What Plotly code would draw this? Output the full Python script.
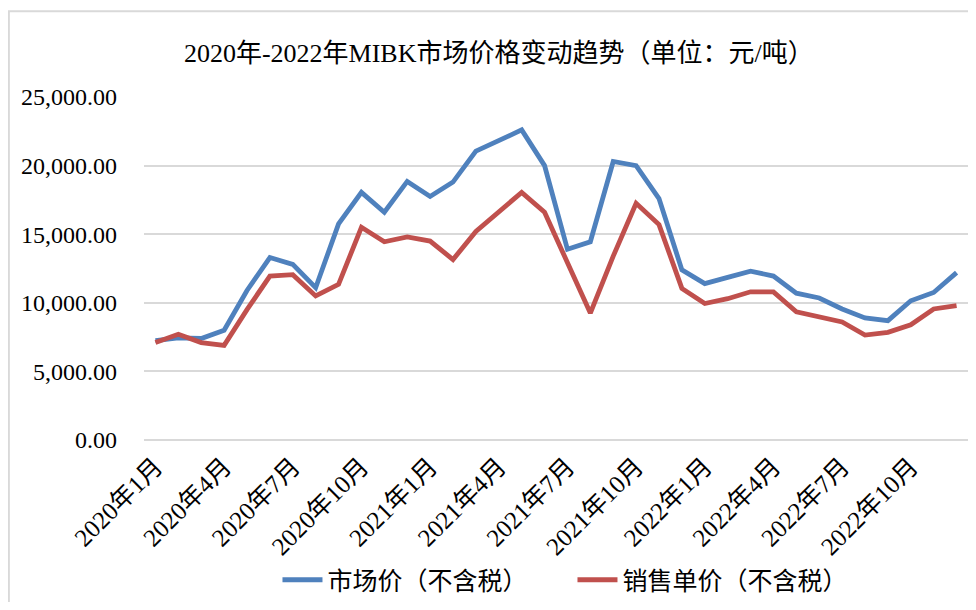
import plotly.graph_objects as go

# months 2020-01 .. 2022-12
months = [f"{y}年{m}月" for y in (2020, 2021, 2022) for m in range(1, 13)]

market_price = [
    7250, 7450, 7400, 8000, 10900, 13300, 12800, 11100, 15750, 18050, 16600, 18850,
    17750, 18800, 21050, 21800, 22600, 20000, 13900, 14450, 20300, 20000, 17600, 12400,
    11400, 11850, 12300, 11950, 10700, 10350, 9550, 8900, 8700, 10150, 10750, 12200,
]

sale_price = [
    7100, 7700, 7100, 6900, 9500, 11950, 12050, 10500, 11350, 15500, 14450, 14800,
    14500, 13150, 15200, 16650, 18050, 16600, 13000, 9250, 13400, 17250, 15700, 11050,
    9950, 10300, 10800, 10800, 9350, 9000, 8600, 7650, 7850, 8400, 9550, 9800,
]

tick_labels = months[::3]

FONT = "Liberation Serif, Times New Roman, Noto Sans CJK SC, serif"

fig = go.Figure()
fig.add_trace(go.Scatter(
    x=months, y=market_price, mode="lines", name="市场价（不含税）",
    line=dict(color="#4F81BD", width=4.8),
))
fig.add_trace(go.Scatter(
    x=months, y=sale_price, mode="lines", name="销售单价（不含税）",
    line=dict(color="#C0504D", width=4.8),
))

# page body keeps an 8px margin, so the figure is sized/offset accordingly
fig.update_layout(
    width=968,
    height=594,
    margin=dict(l=136, r=8, t=89, b=162, autoexpand=False),
    paper_bgcolor="white",
    plot_bgcolor="white",
    font=dict(family=FONT, size=24, color="black"),
    title=dict(
        text="2020年-2022年MIBK市场价格变动趋势（单位：元/吨）",
        x=0.507, xanchor="center",
        y=1 - 45 / 594, yanchor="middle", yref="container",
        font=dict(family=FONT, size=26, color="black"),
    ),
    legend=dict(
        orientation="h",
        x=0.52, xanchor="center",
        y=1 - 572 / 594, yanchor="middle", yref="container",
        font=dict(family=FONT, size=25),
        itemwidth=40,
        entrywidth=240,
    ),
    showlegend=True,
    xaxis=dict(
        type="category",
        range=[-0.5, 35.5],
        tickmode="array",
        tickvals=tick_labels,
        ticktext=tick_labels,
        tickangle=-45,
        tickfont=dict(size=25),
        showgrid=False,
        showline=False,
        zeroline=False,
        ticks="",
        ticklabelstandoff=6,
    ),
    yaxis=dict(
        range=[0, 25000],
        tick0=0,
        dtick=5000,
        tickformat=",.2f",
        tickfont=dict(size=24),
        showgrid=True,
        gridcolor="#D9D9D9",
        gridwidth=1.5,
        zeroline=True,
        zerolinecolor="#D9D9D9",
        zerolinewidth=1.5,
        showline=False,
        ticks="",
        ticklabelstandoff=26,
    ),
    shapes=[
        dict(
            type="rect", xref="paper", yref="paper",
            x0=-0.164, x1=1.03, y0=-0.52, y1=1.25,
            line=dict(color="#D9D9D9", width=2),
            fillcolor="rgba(0,0,0,0)",
            layer="below",
        )
    ],
)

fig.write_html("out.html")
